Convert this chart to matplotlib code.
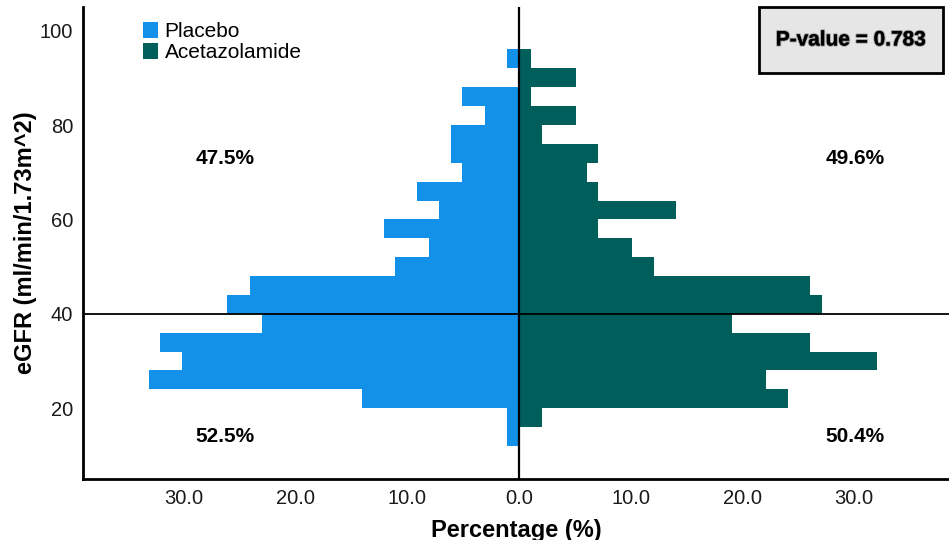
import matplotlib
matplotlib.use("Agg")
import matplotlib.pyplot as plt
import matplotlib.patches as patches
import matplotlib.patheffects as pe
from matplotlib.ticker import FuncFormatter

plt.rcParams['font.family'] = ['Liberation Sans', 'DejaVu Sans']

# eGFR bins (lower edge, width 4) and percentage per arm
bin_start = [12, 16, 20, 24, 28, 32, 36, 40, 44, 48, 52, 56, 60, 64, 68, 72, 76, 80, 84, 88, 92]
placebo = [1.1, 1.1, 14.0, 33.1, 30.1, 32.1, 23.0, 26.1, 24.1, 11.1, 8.0, 12.1, 7.1, 9.1,
           5.1, 6.1, 6.1, 3.0, 5.1, 0.0, 1.1]
acetazolamide = [0.0, 2.1, 24.1, 22.1, 32.1, 26.1, 19.1, 27.1, 26.1, 12.1, 10.1, 7.1, 14.1, 7.1,
                 6.1, 7.1, 2.1, 5.1, 1.1, 5.1, 1.1]
bin_width = 4
cutoff = 40

share_labels = {"placebo_above": "47.5%", "placebo_below": "52.5%",
                "acet_above": "49.6%", "acet_below": "50.4%"}
p_value = 0.783

c_placebo = "#1391e8"
c_acet = "#005e5b"

fig = plt.figure(figsize=(9.49, 5.40), dpi=100)
ax = fig.add_axes([0.0875, 0.113, 0.9125, 0.874])

centers = [b + bin_width / 2 for b in bin_start]
ax.barh(centers, [-v for v in placebo], height=bin_width, color=c_placebo,
        edgecolor="none", label="Placebo")
ax.barh(centers, acetazolamide, height=bin_width, color=c_acet,
        edgecolor="none", label="Acetazolamide")

ax.set_xlim(-39, 38.5)
ax.set_ylim(5, 105)

ax.axvline(0, color="black", lw=1.6, zorder=3)
ax.axhline(cutoff, color="black", lw=1.3, zorder=3)

for s in ("top", "right"):
    ax.spines[s].set_visible(False)
for s in ("left", "bottom"):
    ax.spines[s].set_linewidth(2)

ax.set_xticks([-30, -20, -10, 0, 10, 20, 30])
ax.xaxis.set_major_formatter(FuncFormatter(lambda v, _: f"{abs(v):.1f}"))
ax.set_yticks([20, 40, 60, 80, 100])
ax.tick_params(axis="both", length=0, labelsize=14.5, colors="#1a1a1a")
ax.tick_params(axis="y", pad=7)
ax.tick_params(axis="x", pad=7)

ax.set_xlabel("Percentage (%)", fontsize=17, fontweight="bold", labelpad=8)
ax.set_ylabel("eGFR (ml/min/1.73m^2)", fontsize=17, fontweight="bold", labelpad=2)

# share of each arm above / below the cutoff
txt = dict(fontsize=15, fontweight="bold", ha="center", va="center")
ax.text(-26.3, 73, share_labels["placebo_above"], **txt)
ax.text(-26.3, 14, share_labels["placebo_below"], **txt)
ax.text(30.1, 73, share_labels["acet_above"], **txt)
ax.text(30.1, 14, share_labels["acet_below"], **txt)

ax.legend(loc="upper left", bbox_to_anchor=(0.057, 0.99), frameon=False,
          fontsize=15, handlelength=0.75, handleheight=0.75, handletextpad=0.3,
          labelspacing=0.1, borderpad=0)

# p-value box in the top-right corner
fig.patches.append(patches.Rectangle((0.7998, 0.8648), 0.1939, 0.1222,
                                     transform=fig.transFigure, facecolor="#e6e6e6",
                                     edgecolor="black", lw=2, zorder=5))
fig.text(0.8967, 0.926, f"P-value = {p_value}", fontsize=15, fontweight="bold",
         ha="center", va="center", zorder=6,
         path_effects=[pe.withStroke(linewidth=1.5, foreground="#9a9a9a"), pe.Normal()])

fig.savefig("out.png", dpi=100)
